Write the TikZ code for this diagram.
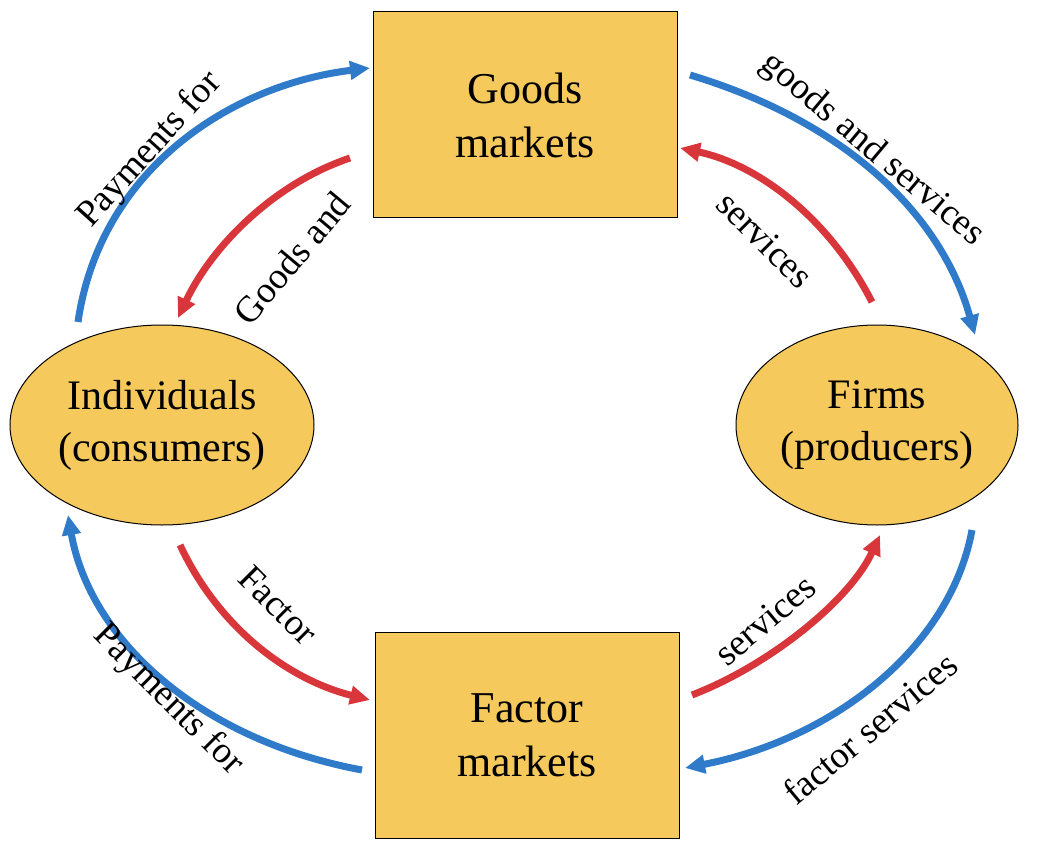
\documentclass[tikz,border=0pt]{standalone}
\usepackage{fontspec}
\setmainfont{Liberation Serif}
\usetikzlibrary{shapes.geometric,arrows.meta}
\definecolor{fillc}{HTML}{F6C95C}
\definecolor{bl}{HTML}{2F7BC9}
\definecolor{rd}{HTML}{D9363B}
\begin{document}
\begin{tikzpicture}[x=1pt,y=-1pt,
 box/.style={draw=black,line width=1pt,fill=fillc,minimum width=304pt,minimum height=206pt,align=center,font=\fontsize{44}{54}\selectfont},
 ell/.style={ellipse,draw=black,line width=1pt,fill=fillc,align=center,font=\fontsize{42}{52}\selectfont,inner sep=0pt},
 flow/.style={line width=7pt,-{Triangle[length=20pt,width=18pt]}},
 lab/.style={font=\fontsize{37}{40}\selectfont}]
\useasboundingbox (0,0) rectangle (1052,850);
\node[box] (G) at (525,115) {Goods\\markets};
\node[box] (F) at (527,735) {Factor\\markets};
\node[ell,minimum width=304pt,minimum height=200pt] (I) at (162,425) {Individuals\\(consumers)};
\node[ell,minimum width=282pt,minimum height=200pt] (P) at (877,425) {Firms\\(producers)};
\coordinate (a1) at (78,322); \coordinate (a2) at (370,68);
\coordinate (b1) at (350,158); \coordinate (b2) at (178,318);
\coordinate (c1) at (690,75); \coordinate (c2) at (975,335);
\coordinate (d1) at (872,302); \coordinate (d2) at (680,148);
\coordinate (e1) at (180,545); \coordinate (e2) at (370,700);
\coordinate (f1) at (362,770); \coordinate (f2) at (68,515);
\coordinate (g1) at (692,695); \coordinate (g2) at (880,535);
\coordinate (h1) at (972,530); \coordinate (h2) at (685,768);
\draw[flow,bl] (a1) .. controls (100,170) and (230,85) .. (a2);
\draw[flow,rd] (b1) .. controls (270,185) and (210,250) .. (b2);
\draw[flow,bl] (c1) .. controls (840,120) and (940,210) .. (c2);
\draw[flow,rd] (d1) .. controls (830,220) and (760,165) .. (d2);
\draw[flow,rd] (e1) .. controls (220,630) and (290,680) .. (e2);
\draw[flow,bl] (f1) .. controls (200,740) and (90,640) .. (f2);
\draw[flow,rd] (g1) .. controls (770,665) and (850,600) .. (g2);
\draw[flow,bl] (h1) .. controls (950,650) and (830,740) .. (h2);
\node[lab,rotate=48] (l1) at (150,150) {Payments for};
\node[lab,rotate=50] (l2) at (292,258) {Goods and};
\node[lab,rotate=-40] (l3) at (872,150) {goods and services};
\node[lab,rotate=-45] (l4) at (765,240) {services};
\node[lab,rotate=-45] (l5) at (278,605) {Factor};
\node[lab,rotate=-45] (l6) at (168,700) {Payments for};
\node[lab,rotate=40] (l7) at (765,620) {services};
\node[lab,rotate=40] (l8) at (870,728) {factor services};
\end{tikzpicture}
\end{document}
